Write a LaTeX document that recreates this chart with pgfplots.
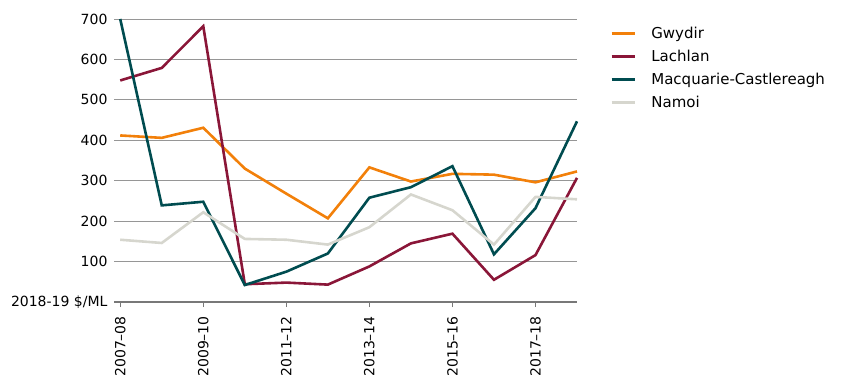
\documentclass[border=0pt]{standalone}
\usepackage{fontspec}
\setmainfont{DejaVu Sans}
\usepackage{pgfplots}
\pgfplotsset{compat=1.18}
\definecolor{cGwydir}{RGB}{242,128,10}
\definecolor{cLachlan}{RGB}{138,22,56}
\definecolor{cMacq}{RGB}{0,76,80}
\definecolor{cNamoi}{RGB}{214,214,206}
\definecolor{cGrid}{RGB}{150,150,150}
\begin{document}
\begin{tikzpicture}[x=1pt,y=1pt]
\useasboundingbox (0,0) rectangle (850,386);
\begin{axis}[
  at={(114pt,84pt)}, anchor=south west,
  scale only axis, width=463pt, height=283pt,
  xmin=-0.15, xmax=11, ymin=0, ymax=700,
  axis x line*=bottom, axis y line*=left,
  x axis line style={draw=cGrid!80!black, line width=1.1pt, -},
  y axis line style={draw=none},
  xtick={0,2,4,6,8,10},
  xticklabels={2007–08,2009–10,2011–12,2013–14,2015–16,2017–18},
  x tick style={draw=cGrid!80!black, line width=1pt},
  y tick style={draw=none},
  major tick length=5pt,
  tick align=outside,
  xticklabel style={yshift=-7pt, rotate=90, anchor=east, font=\fontsize{14}{16}\selectfont, inner sep=2pt},
  ytick={0,100,200,300,400,500,600,700},
  yticklabels={2018-19 \$/ML,100,200,300,400,500,600,700},
  yticklabel style={font=\fontsize{14}{16}\selectfont, anchor=east, xshift=2pt},
  ymajorgrids, grid style={draw=cGrid, line width=0.9pt},
  clip=false,
  legend cell align=left,
  legend style={draw=none, fill=none, at={(1.064,0.986)}, anchor=north west,
    font=\fontsize{15}{17}\selectfont, row sep=6pt,
    /tikz/column 1/.style={column sep=13pt}},
  legend image code/.code={\draw[#1, line width=3.5pt] (0pt,0pt) -- (23pt,0pt);},
]
\addplot[cGwydir, line width=2.6pt] coordinates {
 (0,412) (1,406) (2,431) (3,330) (4,268) (5,207) (6,333) (7,298) (8,317) (9,315) (10,296) (11,323)};
\addlegendentry{Gwydir}
\addplot[cLachlan, line width=2.6pt] coordinates {
 (0,548) (1,579) (2,682) (3,44) (4,48) (5,43) (6,88) (7,145) (8,169) (9,55) (10,116) (11,307)};
\addlegendentry{Lachlan}
\addplot[cMacq, line width=2.6pt] coordinates {
 (0,700) (1,239) (2,248) (3,42) (4,75) (5,120) (6,258) (7,284) (8,336) (9,118) (10,232) (11,447)};
\addlegendentry{Macquarie-Castlereagh}
\addplot[cNamoi, line width=2.6pt] coordinates {
 (0,154) (1,146) (2,222) (3,156) (4,154) (5,142) (6,185) (7,266) (8,227) (9,142) (10,260) (11,254)};
\addlegendentry{Namoi}
\end{axis}
\end{tikzpicture}
\end{document}
